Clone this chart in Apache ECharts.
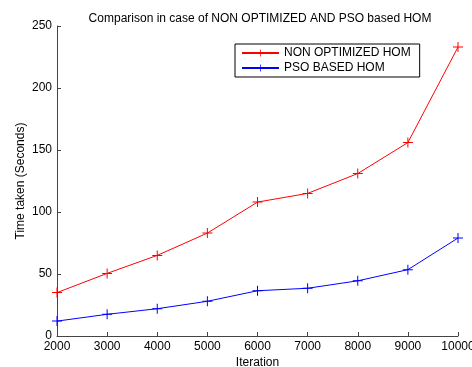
<!DOCTYPE html>
<html>
<head>
<meta charset="utf-8">
<script src="https://cdn.jsdelivr.net/npm/echarts@6/dist/echarts.min.js"></script>
<style>
  html, body { margin: 0; padding: 0; background: #fff; }
  #chart { width: 472px; height: 367px; }
</style>
</head>
<body>
<div id="chart"></div>
<script>
// data
var iterations = [2000, 3000, 4000, 5000, 6000, 7000, 8000, 9000, 10000];
var nonOptimized = [35, 50.5, 65, 83, 108, 115, 131, 156, 233];
var psoBased = [12, 17.5, 22, 28, 36.5, 38.5, 44.5, 53.5, 79];

// plus marker (thin filled cross)
var plus = "path://M-0.5,-5h1v4.5h4.5v1h-4.5v4.5h-1v-4.5h-4.5v-1h4.5z";
var font = "Liberation Sans, Arial, sans-serif";

function pairs(ys) {
  return iterations.map(function (x, i) { return [x, ys[i]]; });
}

var chart = echarts.init(document.getElementById("chart"));
chart.setOption({
  animation: false,
  textStyle: { fontFamily: font },
  title: {
    text: "Comparison in case of NON OPTIMIZED AND PSO based HOM",
    left: 255, top: 8, textAlign: "center",
    textStyle: { fontSize: 12, fontWeight: "normal", color: "#000", fontFamily: font }
  },
  legend: {
    left: 235, top: 44,
    orient: "vertical",
    itemWidth: 37, itemHeight: 9, itemGap: 3,
    padding: [3, 9, 3, 6],
    borderColor: "#000", borderWidth: 1,
    textStyle: { fontSize: 12, color: "#000", fontFamily: font },
    data: ["NON OPTIMIZED HOM", "PSO BASED HOM"]
  },
  grid: { left: 57, right: 14, top: 26, bottom: 31, outerBoundsMode: "none", containLabel: false },
  xAxis: {
    type: "value", min: 2000, max: 10000, interval: 1000,
    name: "Iteration", nameLocation: "middle", nameGap: 21, nameMoveOverlap: false,
    nameTextStyle: { fontSize: 12, color: "#000" },
    axisLine: { lineStyle: { color: "#444" } },
    axisTick: { inside: true, length: 4, lineStyle: { color: "#444" } },
    axisLabel: { fontSize: 12, color: "#000", margin: 5, formatter: function (v) { return String(v); } },
    splitLine: { show: false }
  },
  yAxis: {
    type: "value", min: 0, max: 250, interval: 50,
    name: "Time taken (Seconds)", nameLocation: "middle", nameGap: 30, nameMoveOverlap: false,
    nameTextStyle: { fontSize: 12, color: "#000" },
    axisLine: { show: true, lineStyle: { color: "#444" } },
    axisTick: { show: true, inside: true, length: 4, lineStyle: { color: "#444" } },
    axisLabel: { fontSize: 12, color: "#000", margin: 5 },
    splitLine: { show: false }
  },
  series: [
    {
      name: "NON OPTIMIZED HOM", type: "line",
      data: pairs(nonOptimized),
      symbol: plus, symbolSize: 10,
      lineStyle: { color: "#ff0000", width: 1 },
      itemStyle: { color: "#ff0000" }
    },
    {
      name: "PSO BASED HOM", type: "line",
      data: pairs(psoBased),
      symbol: plus, symbolSize: 10,
      lineStyle: { color: "#0000ff", width: 1 },
      itemStyle: { color: "#0000ff" }
    }
  ]
});
</script>
</body>
</html>
